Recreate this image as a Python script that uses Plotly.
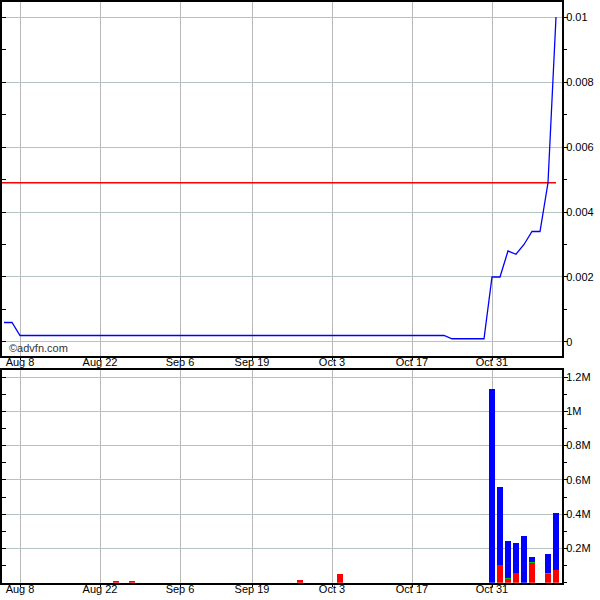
import pandas as pd
import plotly.graph_objects as go

# Trading days (2011, Labor Day excluded)
dates = [d.strftime("%Y-%m-%d") for d in pd.bdate_range("2011-08-04", "2011-11-10") if d.strftime("%Y-%m-%d") != "2011-09-05"]

price = [
    0.0006, 0.0006,
    0.0002, 0.0002, 0.0002, 0.0002, 0.0002, 0.0002, 0.0002, 0.0002, 0.0002, 0.0002,
    0.0002, 0.0002, 0.0002, 0.0002, 0.0002, 0.0002, 0.0002, 0.0002, 0.0002, 0.0002,
    0.0002, 0.0002, 0.0002, 0.0002, 0.0002, 0.0002, 0.0002, 0.0002, 0.0002, 0.0002,
    0.0002, 0.0002, 0.0002, 0.0002, 0.0002, 0.0002, 0.0002, 0.0002, 0.0002, 0.0002,
    0.0002, 0.0002, 0.0002, 0.0002, 0.0002, 0.0002, 0.0002, 0.0002, 0.0002, 0.0002,
    0.0002, 0.0002, 0.0002, 0.0002,
    0.0001, 0.0001, 0.0001, 0.0001, 0.0001,
    0.002, 0.002, 0.0028, 0.0027, 0.003, 0.0034, 0.0034, 0.0049, 0.01,
]
ref_level = 0.0049

vol_dates = ["2011-08-24", "2011-08-26", "2011-09-27", "2011-10-04", "2011-10-31", "2011-11-01",
             "2011-11-02", "2011-11-03", "2011-11-04", "2011-11-07", "2011-11-09", "2011-11-10"]
vol_red = [10000, 10000, 16000, 52000, 0, 102000, 22000, 57000, 0, 117000, 52000, 73000]
vol_green = [0, 0, 0, 0, 0, 0, 5000, 0, 0, 5000, 5000, 0]
vol_blue = [0, 0, 0, 0, 1133000, 459000, 218000, 176000, 274000, 29000, 110000, 336000]

tick_dates = ["2011-08-08", "2011-08-22", "2011-09-06", "2011-09-19", "2011-10-03", "2011-10-17", "2011-10-31"]
tick_text = ["Aug 8", "Aug 22", "Sep 6", "Sep 19", "Oct 3", "Oct 17", "Oct 31"]
price_ticks = [0, 0.002, 0.004, 0.006, 0.008, 0.01]
price_tick_text = ["0", "0.002", "0.004", "0.006", "0.008", "0.01"]
vol_ticks = [200000, 400000, 600000, 800000, 1000000, 1200000]
vol_tick_text = ["0.2M", "0.4M", "0.6M", "0.8M", "1M", "1.2M"]

idx = {d: i for i, d in enumerate(dates)}
xs = list(range(len(dates)))
vx = [idx[d] for d in vol_dates]
tvals = [idx[d] for d in tick_dates]

price_range = [-0.000422, 0.010462]
vol_range = [0, 1241000]

fig = go.Figure()
fig.add_trace(go.Scatter(x=[xs[0] - 0.5, xs[-1]], y=[ref_level, ref_level], mode="lines",
                         line=dict(color="#ff0000", width=1.5), xaxis="x", yaxis="y", showlegend=False))
fig.add_trace(go.Scatter(x=xs, y=price, mode="lines", line=dict(color="#0000ff", width=1.3),
                         xaxis="x", yaxis="y", showlegend=False))
fig.add_trace(go.Bar(x=vx, y=vol_red, marker=dict(color="#ff0000", line=dict(width=0)), width=0.85,
                     xaxis="x2", yaxis="y2", showlegend=False))
fig.add_trace(go.Bar(x=vx, y=vol_green, marker=dict(color="#00c000", line=dict(width=0)), width=0.85,
                     xaxis="x2", yaxis="y2", showlegend=False))
fig.add_trace(go.Bar(x=vx, y=vol_blue, marker=dict(color="#0000ff", line=dict(width=0)), width=0.85,
                     xaxis="x2", yaxis="y2", showlegend=False))
# invisible traces for left-side inner tick axes
fig.add_trace(go.Scatter(x=[xs[0]], y=[price[0]], mode="none", xaxis="x", yaxis="y3",
                         showlegend=False, hoverinfo="skip"))
fig.add_trace(go.Scatter(x=[xs[0]], y=[0], mode="none", xaxis="x2", yaxis="y4",
                         showlegend=False, hoverinfo="skip"))

font = dict(family="Liberation Sans, Arial, sans-serif", size=11, color="#000000")
xdom = [2 / 600, 562 / 600]
H = 600.0
top_dom = [1 - 355.7 / H, 1 - 2 / H]
bot_dom = [1 - 582.7 / H, 1 - 370 / H]

common_x = dict(domain=xdom, range=[-0.25, 69.75], tickmode="array", tickvals=tvals, ticktext=tick_text,
                showgrid=True, gridcolor="#b8b8b8", gridwidth=1, showline=True, linecolor="#000000",
                linewidth=2, mirror=True, ticks="outside", ticklen=2, tickcolor="#000000",
                zeroline=False, tickfont=font, ticklabelstandoff=-7)
common_y = dict(side="right", showgrid=True, gridcolor="#b4c4c4", gridwidth=1, showline=True,
                linecolor="#000000", linewidth=2, mirror=True, ticks="outside", ticklen=4,
                tickcolor="#000000", zeroline=False, tickfont=font, ticklabelstandoff=-4)
inner_y = dict(side="left", showgrid=False, showline=False, zeroline=False, ticks="inside",
               ticklen=4, tickcolor="#000000", showticklabels=False)

fig.update_layout(
    width=600, height=600,
    margin=dict(l=0, r=0, t=0, b=0),
    paper_bgcolor="white", plot_bgcolor="white",
    barmode="stack", bargap=0,
    font=font,
    xaxis=dict(anchor="y", **common_x),
    xaxis2=dict(anchor="y2", matches="x", **common_x),
    yaxis=dict(anchor="x", domain=top_dom, range=price_range,
               tickmode="array", tickvals=price_ticks, ticktext=price_tick_text,
               minor=dict(ticks="outside", dtick=0.001, tick0=0, ticklen=3, tickcolor="#000000", showgrid=False),
               **common_y),
    yaxis2=dict(anchor="x2", domain=bot_dom, range=vol_range,
                tickmode="array", tickvals=vol_ticks, ticktext=vol_tick_text,
                minor=dict(ticks="outside", dtick=100000, tick0=0, ticklen=3, tickcolor="#000000", showgrid=False),
                **common_y),
    yaxis3=dict(anchor="x", overlaying="y", range=price_range, dtick=0.001, tick0=0, **inner_y),
    yaxis4=dict(anchor="x2", overlaying="y2", range=vol_range, dtick=100000, tick0=0, **inner_y),
    annotations=[dict(text="©advfn.com", x=7 / 600, y=1 - 347.5 / H, xref="paper", yref="paper",
                      xanchor="left", yanchor="middle", showarrow=False,
                      font=dict(family="Liberation Sans, Arial, sans-serif", size=11, color="#333333"))],
)

fig.write_html("out.html", config={"displayModeBar": False},
               post_script="document.body.style.margin='0';document.body.style.overflow='hidden';")
